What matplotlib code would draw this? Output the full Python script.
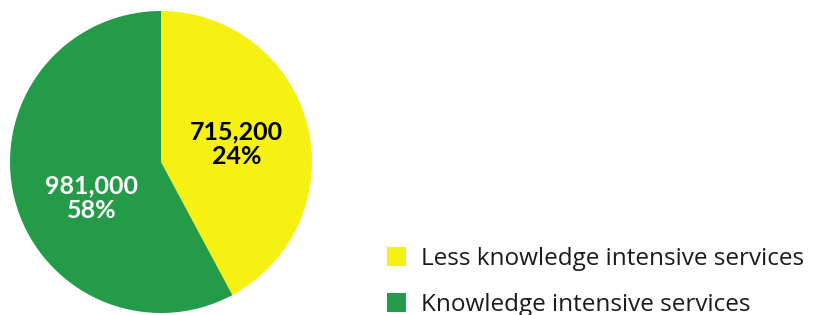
import matplotlib
matplotlib.use('Agg')
import matplotlib.pyplot as plt

categories = ['Less knowledge intensive services', 'Knowledge intensive services']
values = [715200, 981000]
pct_labels = [24, 58]
colors = ['#F5F212', '#239B48']
text_colors = ['black', 'white']

plt.rcParams['font.family'] = ['Lato', 'DejaVu Sans']

fig = plt.figure(figsize=(8.39, 3.15), dpi=100)
ax = fig.add_axes([10 / 839, 2 / 315, 302 / 839, 302 / 315])

wedges, _ = ax.pie(values, colors=colors, startangle=90, counterclock=False,
                   radius=1, wedgeprops=dict(linewidth=0))
ax.set_xlim(-1, 1)
ax.set_ylim(-1, 1)
ax.set_aspect('auto')
ax.axis('off')

label_pos = [(0.50, 0.12), (-0.46, -0.24)]
for v, p, (x, y), c in zip(values, pct_labels, label_pos, text_colors):
    ax.text(x, y, f'{v:,}\n{p}%', ha='center', va='center', color=c,
            fontsize=18, fontweight='bold', linespacing=1.1)

leg = fig.legend(wedges, categories, loc='upper left', bbox_to_anchor=(387 / 839, 1 - 247 / 315),
                 frameon=False, handlelength=0.8, handleheight=0.8,
                 handletextpad=0.6, labelspacing=0.9, borderpad=0, borderaxespad=0,
                 prop={'family': ['Open Sans', 'DejaVu Sans'], 'size': 17.5})
for t in leg.get_texts():
    t.set_color('#1a1a1a')

fig.savefig('out.png', dpi=100)
